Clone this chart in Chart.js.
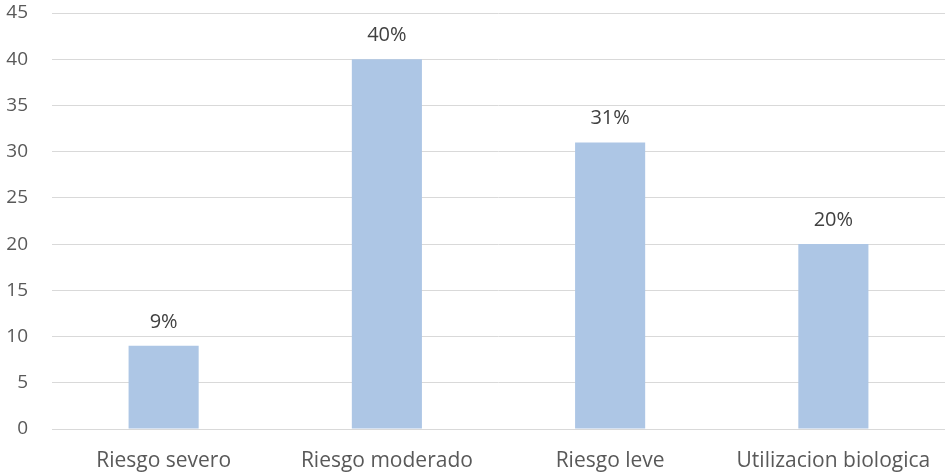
<!DOCTYPE html>
<html><head><meta charset="utf-8">
<script src="https://cdn.jsdelivr.net/npm/chart.js@4"></script>
<style>html,body{margin:0;padding:0;background:#fff}#w{width:945px;height:473px}</style>
</head><body><div id="w"><canvas id="c"></canvas></div>
<script>
const categories = ["Riesgo severo","Riesgo moderado","Riesgo leve","Utilizacion biologica"];
const values = [9, 40, 31, 20];
const barLabels = ["9%","40%","31%","20%"];
const yMin = 0, yMax = 45, yStep = 5;

const FONT = "'Open Sans', 'Liberation Sans', sans-serif";
const labelPlugin = {
  id: 'barLabels',
  afterDatasetsDraw(chart) {
    const ctx = chart.ctx;
    const meta = chart.getDatasetMeta(0);
    ctx.save();
    ctx.font = "20px " + FONT;
    ctx.fillStyle = '#404040';
    ctx.textAlign = 'center';
    ctx.textBaseline = 'alphabetic';
    meta.data.forEach((el, i) => {
      ctx.fillText(barLabels[i], el.x, el.y - 18);
    });
    ctx.restore();
  }
};

new Chart(document.getElementById('c'), {
  type: 'bar',
  data: { labels: categories, datasets: [{ data: values, backgroundColor: '#ADC6E5', categoryPercentage: 1, barPercentage: 0.314 }] },
  options: {
    responsive: true, maintainAspectRatio: false, animation: false,
    layout: { padding: { top: 13, right: 0, left: 0, bottom: 0 } },
    plugins: { legend: { display: false }, tooltip: { enabled: false } },
    scales: {
      x: {
        grid: { display: false, drawTicks: false },
        border: { display: true, color: '#D9D9D9', width: 1 },
        ticks: { color: '#595959', font: { family: FONT, size: 21 }, padding: 19, maxRotation: 0 },
        afterFit(s) { s.height = 44; s.paddingLeft = 0; s.paddingRight = 0; }
      },
      y: {
        min: yMin, max: yMax,
        grid: { color: '#D9D9D9', lineWidth: 1, drawTicks: false },
        border: { display: false },
        ticks: { stepSize: yStep, color: '#595959', font: { family: FONT, size: 19 }, padding: 24 },
        afterFit(s) { s.width = 52; s.paddingTop = 0; s.paddingBottom = 0; }
      }
    }
  },
  plugins: [labelPlugin]
});
</script></body></html>
